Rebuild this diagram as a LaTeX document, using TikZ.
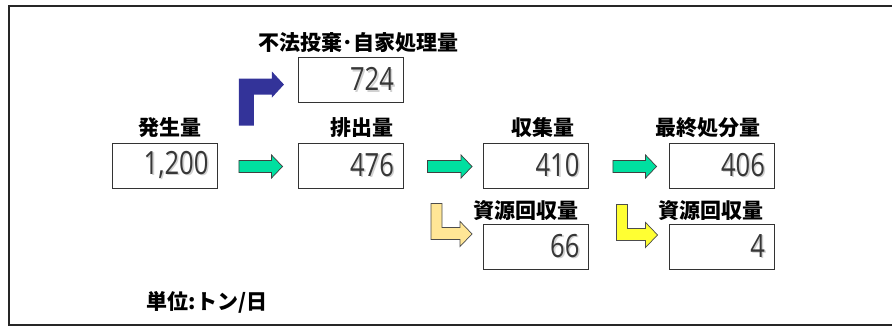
\documentclass[tikz,border=0pt]{standalone}
\usepackage{fontspec}
\usetikzlibrary{calc}
\newfontfamily\jpfont{Noto Sans CJK JP}
\newfontfamily\numfont{Open Sans}[FakeStretch=0.8]
\definecolor{tealc}{RGB}{0,224,160}
\definecolor{bluec}{RGB}{51,51,153}
\definecolor{paley}{RGB}{255,230,150}
\definecolor{brighty}{RGB}{255,255,51}
\definecolor{numc}{RGB}{55,55,55}
\newcommand\shnum[1]{{\color{black!18}\rlap{\kern1.6pt\raisebox{-1.6pt}{#1}}}#1}
\tikzset{
  box/.style={draw=black!80, line width=0.9pt, fill=white, minimum height=45pt,
    text width=87pt, inner xsep=9pt, inner ysep=0pt, align=right,
    font=\numfont\fontsize{32}{32}\selectfont, text=numc},
  lab/.style={font=\jpfont\bfseries\fontsize{21}{22}\selectfont, inner sep=0pt},
  tealarr/.style={fill=tealc, draw=black!75, line width=0.7pt},
  bluearr/.style={fill=bluec},
  yarr/.style={draw=black!70, line width=0.7pt},
}
\newcommand\tealarrow[2]{\path[tealarr] let \p1=(#1),\p2=(#2) in
  (\x1,\y1+6pt) -- (\x2-11pt,\y1+6pt) -- (\x2-11pt,\y1+11.5pt) -- (\x2,\y1)
  -- (\x2-11pt,\y1-11.5pt) -- (\x2-11pt,\y1-6pt) -- (\x1,\y1-6pt) -- cycle;}
\begin{document}
\begin{tikzpicture}[x=1pt,y=-1pt]
\useasboundingbox (0,0) rectangle (892,327);
\draw[line width=1.6pt, black!85] (9,6) rectangle (905,325);
% boxes
\node[box] (gen)  at (165,165.5) {\shnum{1,200}};
\node[box] (fuho) at (350.5,80)  {\shnum{724}};
\node[box] (hai)  at (350.5,165.5) {\shnum{476}};
\node[box] (shu)  at (536,165.5) {\shnum{410}};
\node[box] (sai)  at (721.5,165.5) {\shnum{406}};
\node[box] (rec1) at (536,246.5) {\shnum{66}};
\node[box] (rec2) at (721.5,246.5) {\shnum{4}};
% labels
\node[lab] (lgen)  at ($(gen.north)+(5,-15)$) {発生量};
\node[lab] (lfuho) at ($(fuho.north)+(8,-14)$) {不法投棄･自家処理量};
\node[lab] (lhai)  at ($(hai.north)+(11.5,-15)$) {排出量};
\node[lab] (lshu)  at ($(shu.north)+(7,-15)$) {収集量};
\node[lab] (lsai)  at ($(sai.north)+(-13.5,-15)$) {最終処分量};
\node[lab] (lrec1) at ($(rec1.north)+(-10,-13)$) {資源回収量};
\node[lab] (lrec2) at ($(rec2.north)+(-10.5,-13)$) {資源回収量};
\node[lab] (unit) at (207,302) {単位:トン/日};
% teal arrows
\coordinate (a1s) at ($(gen.east)+(21,1)$);
\coordinate (a1e) at ($(hai.west)+(-15,1)$);
\coordinate (a2s) at ($(hai.east)+(24,1)$);
\coordinate (a2e) at ($(shu.west)+(-11,1)$);
\coordinate (a3s) at ($(shu.east)+(24,1)$);
\coordinate (a3e) at ($(sai.west)+(-12,1)$);
\tealarrow{a1s}{a1e}
\tealarrow{a2s}{a2e}
\tealarrow{a3s}{a3e}
% blue bent arrow
\coordinate (b0) at ($(gen.north east)+(21,-17)$);
\path[bluearr, shift={(b0)}] (0,0) -- (0,-47) -- (33,-47) -- (33,-54) -- (45,-41)
  -- (33,-28) -- (33,-31) -- (15,-31) -- (15,0) -- cycle;
% yellow L arrows
\coordinate (y1) at ($(shu.south west)+(-52,15)$);
\coordinate (y2) at ($(sai.south west)+(-52,16)$);
\path[yarr, fill=paley, shift={(y1)}] (0,0) -- (11,0) -- (11,24) -- (29,24) -- (29,18)
  -- (41,30.5) -- (29,43) -- (29,36) -- (0,36) -- cycle;
\path[yarr, fill=brighty, shift={(y2)}] (0,0) -- (11,0) -- (11,24) -- (29,24) -- (29,18)
  -- (41,30.5) -- (29,43) -- (29,36) -- (0,36) -- cycle;
\end{tikzpicture}
\end{document}
